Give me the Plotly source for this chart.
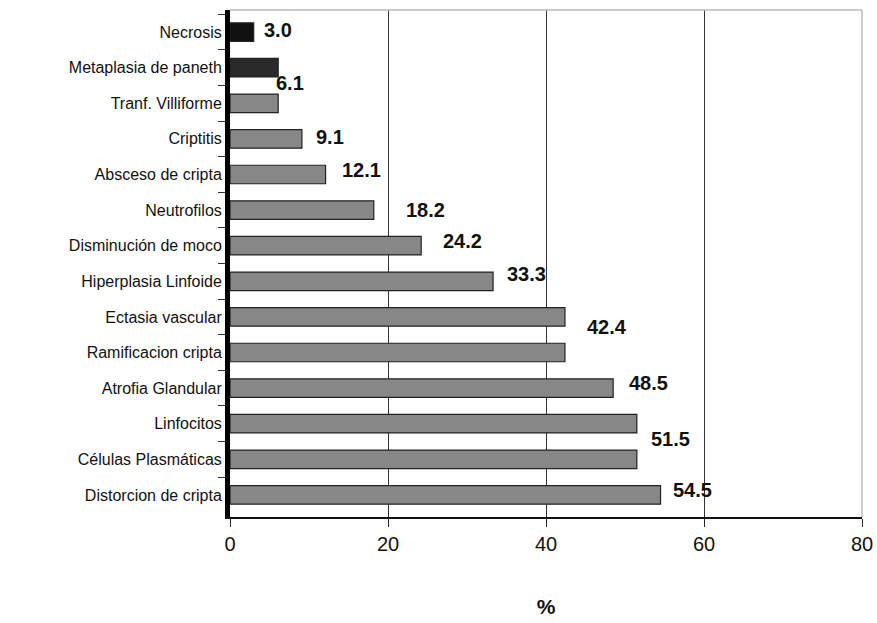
import plotly.graph_objects as go

categories = ["Necrosis", "Metaplasia de paneth", "Tranf. Villiforme", "Criptitis",
              "Absceso de cripta", "Neutrofilos", "Disminución de moco",
              "Hiperplasia Linfoide", "Ectasia vascular", "Ramificacion cripta",
              "Atrofia Glandular", "Linfocitos", "Células Plasmáticas", "Distorcion de cripta"]
values = [3.0, 6.1, 6.1, 9.1, 12.1, 18.2, 24.2, 33.3, 42.4, 42.4, 48.5, 51.5, 51.5, 54.5]
value_labels = ["3.0", "6.1", "", "9.1", "12.1", "18.2", "24.2", "33.3", "42.4", "",
                "48.5", "51.5", "", "54.5"]
x_ticks = [0, 20, 40, 60, 80]

# styling offsets for the value labels (pixels)
label_xshift = [8, -4, 0, 12, 14, 30, 20, 12, 20, 0, 14, 12, 0, 10]
label_yshift = [2, -15, 0, 2, 4, 0, 5, 7, -10, 0, 5, -15, 0, 5]
bar_colors = ["#111111", "#2a2a2a"] + ["#878787"] * 12

fig = go.Figure()
fig.add_trace(go.Bar(
    y=categories, x=values, orientation="h", width=0.52,
    marker=dict(color=bar_colors, line=dict(color="#222222", width=1.2)),
    showlegend=False, hoverinfo="x+y"))

for c, v, t, dx, dy in zip(categories, values, value_labels, label_xshift, label_yshift):
    if t:
        fig.add_annotation(x=v, y=c, text="<b>" + t + "</b>", showarrow=False,
                           xanchor="left", yanchor="middle", xshift=dx, yshift=dy,
                           font=dict(family="Liberation Sans, Arial", size=20, color="#111"))

fig.update_layout(
    width=877, height=623,
    margin=dict(l=230, r=15, t=10, b=106),
    plot_bgcolor="white", paper_bgcolor="white",
    font=dict(family="Liberation Sans, Arial", color="#111"),
    xaxis=dict(range=[0, 80], tickvals=x_ticks, ticks="outside", ticklen=8,
               tickcolor="#222", showgrid=True, gridcolor="#333", gridwidth=1,
               showline=True, linecolor="#111", linewidth=2, zeroline=False,
               tickfont=dict(size=20, family="Liberation Sans Narrow, Liberation Sans, Arial"),
               title=dict(text="<b>%</b>", font=dict(size=21), standoff=45),
               automargin=False, mirror=False),
    yaxis=dict(type="category", categoryorder="array", categoryarray=categories,
               range=[13.62, -0.62], ticks="outside", ticklen=7, tickcolor="#333",
               tickson="boundaries", automargin=False,
               showline=True, linecolor="#000", linewidth=5, showgrid=False,
               tickfont=dict(size=16), ticklabelstandoff=0),
)
# light top and right frame of the back wall
fig.add_shape(type="line", xref="paper", yref="paper", x0=0, x1=1, y0=1, y1=1,
              line=dict(color="#bbbbbb", width=1.5))
fig.add_shape(type="line", xref="paper", yref="paper", x0=1, x1=1, y0=0, y1=1,
              line=dict(color="#bbbbbb", width=1.5))

fig.write_html("out.html", config={"displayModeBar": False},
               post_script="document.body.style.margin='0';document.body.style.overflow='hidden';")
